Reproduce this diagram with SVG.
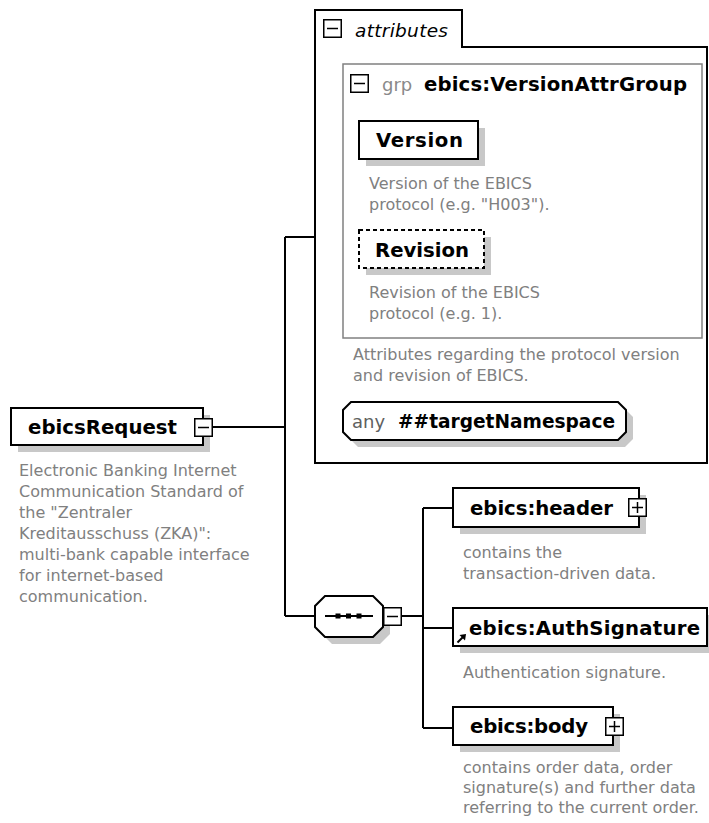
<svg xmlns="http://www.w3.org/2000/svg" width="709" height="823" viewBox="0 0 709 823">
<style>
.box{fill:#fff;stroke:#000;stroke-width:2}
.dash{fill:#fff;stroke:#000;stroke-width:2;stroke-dasharray:4 3}
.shadow{fill:#c8c8c8}
.lbl{font-family:"DejaVu Sans",Verdana,sans-serif;font-weight:bold;font-size:19.7px;fill:#000}
.desc{font-family:"DejaVu Sans",Verdana,sans-serif;font-size:16px;fill:#808080}
.kw{font-family:"DejaVu Sans",Verdana,sans-serif;font-size:18px;fill:#8a8a8a}
.ital{font-family:"DejaVu Sans",Verdana,sans-serif;font-style:italic;font-size:18.5px;fill:#000}
.conn{fill:none;stroke:#000;stroke-width:2}
.grp{fill:none;stroke:#808080;stroke-width:1.5}
</style>
<defs>
<symbol id="minus" viewBox="0 0 19 19" width="19" height="19">
<rect x="0.75" y="0.75" width="17.5" height="17.5" fill="#fff" stroke="#000" stroke-width="1.5"/>
<line x1="4" y1="9.5" x2="15" y2="9.5" stroke="#000" stroke-width="1.5"/>
</symbol>
<symbol id="plus" viewBox="0 0 19 19" width="19" height="19">
<rect x="0.75" y="0.75" width="17.5" height="17.5" fill="#fff" stroke="#000" stroke-width="1.5"/>
<line x1="4" y1="9.5" x2="15" y2="9.5" stroke="#000" stroke-width="1.5"/>
<line x1="9.5" y1="4" x2="9.5" y2="15" stroke="#000" stroke-width="1.5"/>
</symbol>
</defs>
<rect width="709" height="823" fill="#fff"/>

<g id="connectors">
<path class="conn" d="M213,427 H285"/>
<path class="conn" d="M285,237 V616"/>
<path class="conn" d="M285,237 H315"/>
<path class="conn" d="M285,616 H315"/>
<path class="conn" d="M402,616 H423"/>
<path class="conn" d="M423,508 V728"/>
<path class="conn" d="M423,508 H453"/>
<path class="conn" d="M423,628 H453"/>
<path class="conn" d="M423,728 H453"/>
</g>

<g id="ebicsRequest">
<rect class="shadow" x="18" y="415" width="192" height="37"/>
<rect class="box" x="11" y="408" width="192" height="37"/>
<text class="lbl" x="28" y="434" textLength="149">ebicsRequest</text>
<use href="#minus" x="194" y="418"/>
<text class="desc" x="19" y="476">Electronic Banking Internet</text>
<text class="desc" x="19" y="497">Communication Standard of</text>
<text class="desc" x="19" y="518">the "Zentraler</text>
<text class="desc" x="19" y="539">Kreditausschuss (ZKA)":</text>
<text class="desc" x="19" y="560">multi-bank capable interface</text>
<text class="desc" x="19" y="581">for internet-based</text>
<text class="desc" x="19" y="602">communication.</text>
</g>

<g id="attributes">
<path class="box" d="M315,10 H462 V47 H707 V463 H315 Z"/>
<use href="#minus" x="323" y="19"/>
<text class="ital" x="355" y="37" textLength="93">attributes</text>
</g>

<g id="VersionAttrGroup">
<rect class="grp" x="343" y="64" width="359" height="274"/>
<use href="#minus" x="350" y="74"/>
<text class="kw" x="382" y="91">grp</text>
<text class="lbl" x="424" y="91" textLength="263">ebics:VersionAttrGroup</text>
<text class="desc" x="353" y="360">Attributes regarding the protocol version</text>
<text class="desc" x="353" y="381">and revision of EBICS.</text>
</g>

<g id="Version">
<rect class="shadow" x="366" y="128" width="119" height="38"/>
<rect class="box" x="359" y="121" width="119" height="38"/>
<text class="lbl" x="376" y="147" textLength="87">Version</text>
<text class="desc" x="369" y="189">Version of the EBICS</text>
<text class="desc" x="369" y="210">protocol (e.g. "H003").</text>
</g>

<g id="Revision">
<rect class="shadow" x="366" y="237" width="125" height="38"/>
<rect class="dash" x="359" y="230" width="125" height="38"/>
<text class="lbl" x="375" y="257" textLength="94">Revision</text>
<text class="desc" x="369" y="298">Revision of the EBICS</text>
<text class="desc" x="369" y="319">protocol (e.g. 1).</text>
</g>

<g id="anyAttribute">
<polygon class="shadow" points="358,409 625,409 633,417 633,439 625,447 358,447 350,439 350,417"/>
<polygon class="box" points="351,402 618,402 626,410 626,432 618,440 351,440 343,432 343,410"/>
<text class="kw" x="352" y="428" fill="#606060" style="fill:#606060">any</text>
<text class="lbl" x="398" y="428" textLength="217" lengthAdjust="spacingAndGlyphs">##targetNamespace</text>
</g>

<g id="sequence">
<polygon class="shadow" points="332,603 380,603 390,613 390,634 380,644 332,644 322,634 322,613"/>
<polygon class="box" points="325,596 373,596 383,606 383,627 373,637 325,637 315,627 315,606"/>
<line x1="325" y1="616" x2="373" y2="616" stroke="#000" stroke-width="2"/>
<rect x="335.5" y="613.5" width="5" height="5" fill="#000"/>
<rect x="346" y="613.5" width="5" height="5" fill="#000"/>
<rect x="356.5" y="613.5" width="5" height="5" fill="#000"/>
<use href="#minus" x="383" y="607"/>
</g>

<g id="header">
<rect class="shadow" x="460" y="495" width="186" height="39"/>
<rect class="box" x="453" y="488" width="186" height="39"/>
<text class="lbl" x="470" y="515" textLength="143">ebics:header</text>
<use href="#plus" x="628" y="498"/>
<text class="desc" x="463" y="558">contains the</text>
<text class="desc" x="463" y="579">transaction-driven data.</text>
</g>

<g id="AuthSignature">
<rect class="shadow" x="460" y="615" width="254" height="38"/>
<rect class="box" x="453" y="608" width="254" height="38"/>
<text class="lbl" x="469" y="635" textLength="231">ebics:AuthSignature</text>
<line x1="457.5" y1="642.5" x2="463" y2="637" stroke="#000" stroke-width="2"/>
<polygon points="466,634 459.5,635 465,640.5" fill="#000"/>
<text class="desc" x="463" y="678">Authentication signature.</text>
</g>

<g id="body">
<rect class="shadow" x="460" y="714" width="160" height="38"/>
<rect class="box" x="453" y="707" width="160" height="38"/>
<text class="lbl" x="470" y="733" textLength="118">ebics:body</text>
<use href="#plus" x="605" y="717"/>
<text class="desc" x="463" y="773">contains order data, order</text>
<text class="desc" x="463" y="793">signature(s) and further data</text>
<text class="desc" x="463" y="813">referring to the current order.</text>
</g>
</svg>
